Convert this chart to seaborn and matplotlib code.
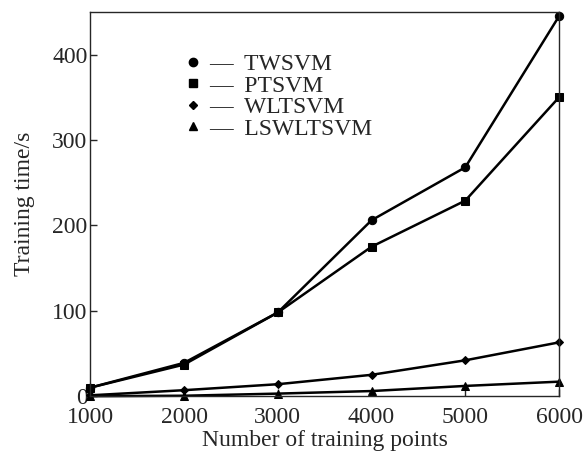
import pandas as pd
import matplotlib.pyplot as plt
import seaborn as sns
from matplotlib.lines import Line2D

points = [1000, 2000, 3000, 4000, 5000, 6000]
twsvm = [10, 39, 98, 206, 268, 445]
ptsvm = [10, 37, 98, 175, 229, 350]
wltsvm = [1, 7, 14, 25, 42, 63]
lswltsvm = [0, 0.5, 3, 6, 12, 17]
methods = ["TWSVM", "PTSVM", "WLTSVM", "LSWLTSVM"]
markers = ["o", "s", "D", "^"]
sizes = [6, 6, 4.5, 6]

df = pd.DataFrame({
    "points": points * 4,
    "time": twsvm + ptsvm + wltsvm + lswltsvm,
    "method": [m for m in methods for _ in points],
})

sns.set_style("ticks")
plt.rcParams['font.family'] = ['Liberation Serif', 'DejaVu Serif']

fig, ax = plt.subplots(figsize=(5.86, 4.58), dpi=100)
for m, mk, ms in zip(methods, markers, sizes):
    sns.lineplot(data=df[df["method"] == m], x="points", y="time", ax=ax,
                 color="black", linewidth=1.8, marker=mk, markersize=ms,
                 markeredgecolor="black", clip_on=False, legend=False)

ax.set_xlim(1000, 6000)
ax.set_ylim(0, 450)
ax.set_xticks(points)
ax.set_yticks([0, 100, 200, 300, 400])
ax.tick_params(direction="in", labelsize=17, length=5, width=1)
ax.tick_params(axis="x", pad=8)
ax.tick_params(axis="y", pad=2)
ax.set_xlabel("Number of training points", fontsize=17, labelpad=1)
ax.set_ylabel("Training time/s", fontsize=17, labelpad=12)
for s in ax.spines.values():
    s.set_visible(True)
    s.set_linewidth(1)

handles = [Line2D([], [], color="black", marker=mk, markersize=ms, linestyle="none")
           for mk, ms in zip(markers, sizes)]
ax.legend(handles, ["—  " + m for m in methods], loc="upper left",
          bbox_to_anchor=(0.148, 0.947), frameon=False, fontsize=17,
          handletextpad=0.2, labelspacing=0.0, handlelength=1)

plt.subplots_adjust(left=0.154, right=0.954, top=0.974, bottom=0.135)
plt.savefig("out.png")
